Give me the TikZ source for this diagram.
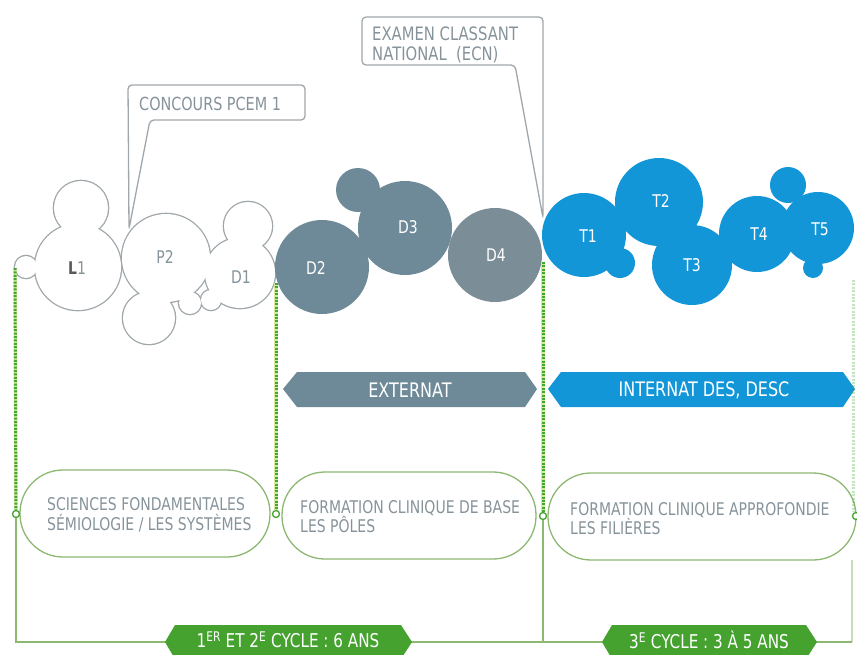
\documentclass[tikz,border=0pt]{standalone}
\usepackage{fontspec}
\setmainfont{DejaVu Sans}[FakeStretch=0.8]
\definecolor{txtgray}{HTML}{86939A}
\definecolor{linegray}{HTML}{A0A7AA}
\definecolor{dgray}{HTML}{6E8A98}
\definecolor{dgraylt}{HTML}{7B8E98}
\definecolor{tblue}{HTML}{1396D8}
\definecolor{bgreen}{HTML}{45A22F}
\definecolor{lgreen}{HTML}{8DB872}
\definecolor{dotgreen}{HTML}{3FA82E}
\definecolor{dotunder}{HTML}{D8E8A0}
\begin{document}
\begin{tikzpicture}[x=1pt,y=-1pt,
  circlbl/.style={inner sep=0pt,font=\fontsize{17.5}{20}\selectfont},
  calltxt/.style={inner sep=0pt,anchor=base west,text=txtgray,font=\fontsize{18}{20}\selectfont},
  callbox/.style={draw=linegray,line width=1.3pt,rounded corners=4pt,fill=white},
  boxtxt/.style={inner sep=0pt,anchor=base west,text=txtgray,font=\fontsize{17.5}{20}\selectfont},
  stadium/.style={draw=lgreen,line width=1.3pt,rounded corners=43pt},
  bantxt/.style={inner sep=0pt,text=white,font=\fontsize{20}{22}\selectfont},
  dotunderpath/.style={draw=dotunder,line width=3.4pt},
  dotpath/.style={draw=dotgreen,line width=3pt,dash pattern=on 2pt off 1.4pt},
  frameline/.style={draw=lgreen,line width=1.3pt},
  jdot/.style={circle,draw=bgreen,fill=white,line width=1.3pt,inner sep=0pt,minimum size=7pt}]
\useasboundingbox (0,0) rectangle (857,654);

% ---- callouts ----
\draw[callbox] (150,120) -- (129,229) -- (128,85) -- (305,85) -- (305,120) -- cycle;
\node[calltxt] (pcem) at (139,110) {CONCOURS PCEM 1};
\draw[callbox] (515,65) -- (543,218) -- (543,17) -- (362,17) -- (362,65) -- cycle;
\node[calltxt,font=\fontsize{18.5}{20}\selectfont] (ecn1) at (372,40) {EXAMEN CLASSANT};
\node[calltxt,font=\fontsize{18.5}{20}\selectfont] (ecn2) at (372,60) {NATIONAL\ \ (ECN)};

% ---- white circle group ----
\foreach \cx/\cy/\r in {78/267/43, 81/208/27, 26/267/11, 166/258/44, 149/318/26, 190/303/11, 211/300/10, 240/273/35, 248/226/24}
  \draw[linegray,line width=2.6pt] (\cx,\cy) circle (\r);
\foreach \cx/\cy/\r in {78/267/43, 81/208/27, 26/267/11, 166/258/44, 149/318/26, 190/303/11, 211/300/10, 240/273/35, 248/226/24}
  \fill[white] (\cx,\cy) circle (\r);

% ---- D group ----
\fill[dgray] (322,267) circle (47);
\fill[dgray] (358,190) circle (22);
\fill[dgray] (405,228) circle (47);
\fill[dgraylt] (495,255) circle (47);

% ---- T group ----
\foreach \cx/\cy/\r in {584/235/42, 620/263/15, 659/202/44, 692/265/40, 757/234/38, 788/185/18, 818/228/36, 813/268/10}
  \fill[tblue] (\cx,\cy) circle (\r);

% ---- circle labels ----
\node[circlbl,text=txtgray] (L1) at (77,268) {{\color{black!65}\bfseries L}1};
\node[circlbl,text=txtgray] (P2) at (165,257) {P2};
\node[circlbl,text=txtgray] (D1) at (241,277) {D1};
\node[circlbl,text=white] (D2) at (316,268) {D2};
\node[circlbl,text=white] (D3) at (408,227) {D3};
\node[circlbl,text=white] (D4) at (496,255) {D4};
\node[circlbl,text=white] (T1) at (588,236) {T1};
\node[circlbl,text=white] (T2) at (661,201) {T2};
\node[circlbl,text=white] (T3) at (692,265) {T3};
\node[circlbl,text=white] (T4) at (759,234) {T4};
\node[circlbl,text=white] (T5) at (820,229) {T5};

% ---- banners ----
\fill[dgray] (283,389) -- (297,372) -- (525,372) -- (537,389) -- (525,407) -- (297,407) -- cycle;
\node[bantxt] (ext) at (410,390) {EXTERNAT};
\fill[tblue] (548,389) -- (561,372) -- (843,372) -- (855,389) -- (843,407) -- (561,407) -- cycle;
\node[bantxt] (int) at (704,390) {INTERNAT DES, DESC};

% ---- stadium boxes ----
\draw[stadium] (20,470) rectangle (270,557);
\draw[stadium] (282,472) rectangle (536,559);
\draw[stadium] (548,473) rectangle (856,560);
\node[boxtxt] (b1a) at (47,510) {SCIENCES FONDAMENTALES};
\node[boxtxt] (b1b) at (47,530) {SÉMIOLOGIE / LES SYSTÈMES};
\node[boxtxt] (b2a) at (300,513) {FORMATION CLINIQUE DE BASE};
\node[boxtxt] (b2b) at (300,532) {LES PÔLES};
\node[boxtxt] (b3a) at (570,515) {FORMATION CLINIQUE APPROFONDIE};
\node[boxtxt] (b3b) at (570,534) {LES FILIÈRES};

% ---- frame ----
\coordinate (t1) at (15,268);
\coordinate (t2) at (276,283);
\coordinate (t3) at (543,262);
\coordinate (t4) at (853,280);
\coordinate (c1) at (16,642);
\coordinate (c3) at (543,642);
\coordinate (c4) at (852,642);
\node[jdot] (j1) at (16,514) {};
\node[jdot] (j2) at (276,514) {};
\node[jdot] (j3) at (543,516) {};
\node[jdot] (j4) at (856,516) {};
\draw[dotunderpath] (t1) -- (j1);
\draw[dotunderpath] (t2) -- (j2);
\draw[dotunderpath] (t3) -- (j3);
\draw[dotpath] (t1) -- (j1);
\draw[dotpath] (t2) -- (j2);
\draw[dotpath] (t3) -- (j3);
\draw[dotpath,opacity=0.3] (t4) -- (853,512);
\draw[frameline] (j1) -- (c1) -- (c4);
\draw[frameline] (j3) -- (c3);
\draw[frameline,opacity=0.5] (852,560) -- (c4);

% ---- green banners ----
\fill[bgreen] (165,642) -- (175,625) -- (401,625) -- (412,642) -- (401,659) -- (175,659) -- cycle;
\node[bantxt,font=\fontsize{19}{21}\selectfont] (cyc12) at (288,640) {1\textsuperscript{ER} ET 2\textsuperscript{E} CYCLE : 6 ANS};
\fill[bgreen] (602,642) -- (612,625) -- (806,625) -- (817,642) -- (806,659) -- (612,659) -- cycle;
\node[bantxt,font=\fontsize{19}{21}\selectfont] (cyc3) at (709,640) {3\textsuperscript{E} CYCLE : 3 À 5 ANS};
\end{tikzpicture}
\end{document}
